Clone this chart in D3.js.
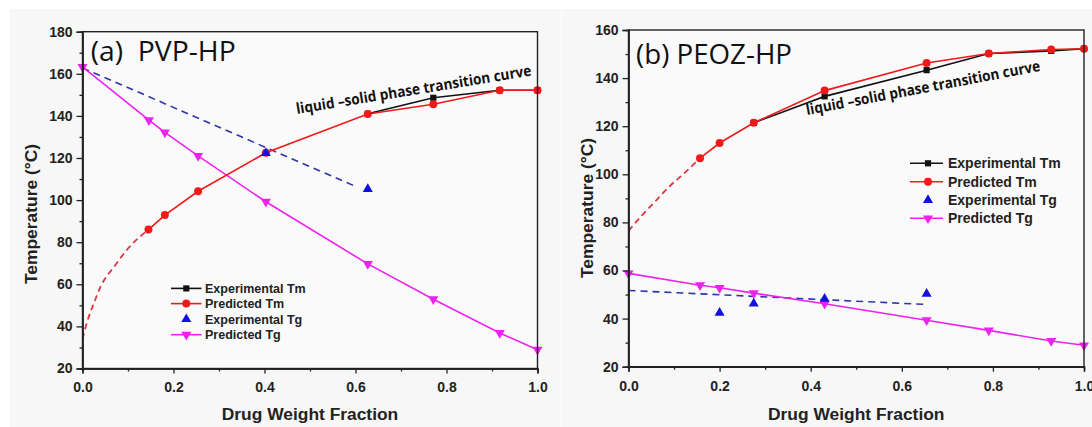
<!DOCTYPE html>
<html>
<head>
<meta charset="utf-8">
<script src="https://cdn.jsdelivr.net/npm/d3@7"></script>
<style>
  body { margin: 0; background: #fff; }
  svg { display: block; }
  .tick text { font-family: "Liberation Sans", Arial, sans-serif; font-weight: bold; font-size: 14px; fill: #222; }
</style>
</head>
<body>
<script>
// ---- data ----
var xTicks = [0, 0.2, 0.4, 0.6, 0.8, 1.0];
var xMinor = [0.1, 0.3, 0.5, 0.7, 0.9];
var pvpYTicks = [20, 40, 60, 80, 100, 120, 140, 160, 180];
var pvpYMinor = [30, 50, 70, 90, 110, 130, 150, 170];
var peozYTicks = [20, 40, 60, 80, 100, 120, 140, 160];
var peozYMinor = [30, 50, 70, 90, 110, 130, 150];

var legendLabels = ["Experimental Tm", "Predicted Tm", "Experimental Tg", "Predicted Tg"];

// (a) PVP-HP
var pvpExpTm = [[0.627, 141.0], [0.771, 148.6], [0.917, 152.2], [1.0, 152.2]];
var pvpPredTm = [[0.145, 86.0], [0.181, 92.9], [0.254, 104.2], [0.403, 122.5], [0.627, 140.9], [0.771, 145.5], [0.917, 152.2], [1.0, 152.2]];
var pvpPredTmExtrap = [[0, 34], [0.01, 42], [0.025, 51], [0.04, 59], [0.07, 68.5], [0.1, 77], [0.145, 86.0]];
var pvpExpTg = [[0.403, 122.3], [0.627, 105.2]];
var pvpExpTgFit = [[0, 162.8], [0.6, 106.5]];
var pvpPredTg = [[0, 163.3], [0.146, 138], [0.181, 132.2], [0.254, 121], [0.403, 99.2], [0.627, 69.7], [0.771, 52.9], [0.917, 36.9], [1.0, 28.9]];

// (b) PEOZ-HP
var peozExpTm = [[0.275, 121.4], [0.4305, 132.4], [0.6545, 143.3], [0.791, 150.2], [0.928, 151.3], [1.0, 152.2]];
var peozPredTm = [[0.157, 106.7], [0.2, 113.0], [0.275, 121.4], [0.4305, 134.8], [0.6545, 146.3], [0.791, 150.2], [0.928, 151.9], [1.0, 152.2]];
var peozPredTmExtrap = [[0, 76.5], [0.03, 83], [0.06, 89], [0.09, 95], [0.12, 100], [0.157, 106.7]];
var peozExpTg = [[0.2, 42.4], [0.275, 46.2], [0.4305, 48.2], [0.6545, 50.3]];
var peozExpTgFit = [[0, 51.7], [0.651, 45.9]];
var peozPredTg = [[0, 58.8], [0.157, 53.9], [0.2, 52.8], [0.275, 50.6], [0.4305, 46.2], [0.6545, 39.3], [0.791, 35.1], [0.928, 30.7], [1.0, 28.9]];

// ---- colours ----
var cBlack = "#111", cRed = "#f01a1a", cRedDash = "#e2343e", cBlue = "#1010e0", cBlueDash = "#2f35a8", cMag = "#ee22ee";

var svg = d3.select("body").append("svg").attr("width", 1092).attr("height", 427);

// light grey backgrounds of the two scanned panels
svg.append("rect").attr("x", 10).attr("y", 9).attr("width", 551).attr("height", 418).attr("fill", "#f7f7f7");
svg.append("rect").attr("x", 562).attr("y", 9).attr("width", 530).attr("height", 418).attr("fill", "#f7f7f7");

var sym = {
	square: d3.symbol().type(d3.symbolSquare).size(38),
	circle: d3.symbol().type(d3.symbolCircle).size(50),
	tri: d3.symbol().type(d3.symbolTriangle).size(44)
};

function drawPanel(p) {
	var x = d3.scaleLinear().domain([0, 1]).range([p.left, p.right]);
	var y = d3.scaleLinear().domain(p.yDomain).range([p.bottom, p.top]);
	var g = svg.append("g");

	g.append("rect")
		.attr("x", p.left).attr("y", p.top)
		.attr("width", p.right - p.left).attr("height", p.bottom - p.top)
		.attr("fill", "#fafafa");

	var line = d3.line().x(function(d){ return x(d[0]); }).y(function(d){ return y(d[1]); });
	var smooth = d3.line().curve(d3.curveMonotoneX).x(function(d){ return x(d[0]); }).y(function(d){ return y(d[1]); });

	// lines
	g.append("path").datum(p.expTgFit).attr("d", line)
		.attr("fill", "none").attr("stroke", cBlueDash).attr("stroke-width", 1.6).attr("stroke-dasharray", "7,5");
	g.append("path").datum(p.predTg).attr("d", line)
		.attr("fill", "none").attr("stroke", cMag).attr("stroke-width", 1.6);
	g.append("path").datum(p.predTmExtrap).attr("d", smooth)
		.attr("fill", "none").attr("stroke", cRedDash).attr("stroke-width", 1.8).attr("stroke-dasharray", "6,4");
	g.append("path").datum(p.expTm).attr("d", line)
		.attr("fill", "none").attr("stroke", cBlack).attr("stroke-width", 1.6);
	g.append("path").datum(p.predTm).attr("d", line)
		.attr("fill", "none").attr("stroke", cRed).attr("stroke-width", 1.6);

	// markers
	g.selectAll(".sq").data(p.expTm).enter().append("path")
		.attr("d", sym.square())
		.attr("transform", function(d){ return "translate(" + x(d[0]) + "," + y(d[1]) + ")"; })
		.attr("fill", cBlack);
	g.selectAll(".ci").data(p.predTm).enter().append("path")
		.attr("d", sym.circle())
		.attr("transform", function(d){ return "translate(" + x(d[0]) + "," + y(d[1]) + ")"; })
		.attr("fill", cRed);
	g.selectAll(".dn").data(p.predTg).enter().append("path")
		.attr("d", sym.tri())
		.attr("transform", function(d){ return "translate(" + x(d[0]) + "," + y(d[1]) + ") rotate(180)"; })
		.attr("fill", cMag);
	g.selectAll(".up").data(p.expTg).enter().append("path")
		.attr("d", sym.tri())
		.attr("transform", function(d){ return "translate(" + x(d[0]) + "," + y(d[1]) + ")"; })
		.attr("fill", cBlue);

	// frame
	g.append("rect")
		.attr("x", p.left).attr("y", p.top)
		.attr("width", p.right - p.left).attr("height", p.bottom - p.top)
		.attr("fill", "none").attr("stroke", "#222").attr("stroke-width", 1.4);

	// axes
	g.append("g").attr("transform", "translate(0," + p.bottom + ")")
		.call(d3.axisBottom(x).tickValues(xTicks).tickFormat(d3.format(".1f")).tickSize(5).tickPadding(9));
	g.append("g").attr("transform", "translate(0," + p.bottom + ")")
		.call(d3.axisBottom(x).tickValues(xMinor).tickFormat("").tickSize(3));
	g.append("g").attr("transform", "translate(" + p.left + ",0)")
		.call(d3.axisLeft(y).tickValues(p.yTicks).tickSize(6).tickPadding(4));
	g.append("g").attr("transform", "translate(" + p.left + ",0)")
		.call(d3.axisLeft(y).tickValues(p.yMinor).tickFormat("").tickSize(3));
	g.selectAll(".domain").attr("stroke", "#222").attr("stroke-width", 1.4);
	g.selectAll(".tick line").attr("stroke", "#222").attr("stroke-width", 1.3);

	// axis titles
	g.append("text")
		.attr("x", (p.left + p.right) / 2).attr("y", 420)
		.attr("text-anchor", "middle")
		.style("font-family", "Liberation Sans, Arial, sans-serif").style("font-weight", "bold").style("font-size", "17.4px")
		.attr("fill", "#222")
		.text("Drug Weight Fraction");
	g.append("text")
		.attr("transform", "translate(" + p.yTitleX + "," + p.yTitleY + ") rotate(-90)")
		.attr("text-anchor", "middle")
		.style("font-family", "Liberation Sans, Arial, sans-serif").style("font-weight", "bold").style("font-size", "17.4px")
		.attr("fill", "#222")
		.text("Temperature (°C)");

	// panel label
	g.append("text")
		.attr("x", p.labelX).attr("y", p.labelY)
		.attr("textLength", p.labelLen).attr("lengthAdjust", "spacingAndGlyphs")
		.style("font-family", "Open Sans, sans-serif").style("font-size", p.labelSize + "px")
		.style("white-space", "pre")
		.attr("fill", "#111")
		.text(p.label);

	// curve annotation
	g.append("text")
		.attr("transform", "translate(" + p.noteX + "," + p.noteY + ") rotate(" + p.noteAngle + ")")
		.attr("textLength", 238).attr("lengthAdjust", "spacingAndGlyphs")
		.style("font-family", "Open Sans, sans-serif").style("font-weight", "bold").style("font-size", "15px")
		.attr("fill", "#111")
		.text("liquid \u2013solid phase transition curve");

	// legend
	var lg = p.legend;
	legendLabels.forEach(function(lab, i) {
		var ly = lg.rows[i];
		if (i !== 2) {
			g.append("line")
				.attr("x1", lg.x1).attr("x2", lg.x2).attr("y1", ly).attr("y2", ly)
				.attr("stroke", [cBlack, cRed, cBlue, cMag][i]).attr("stroke-width", 1.6);
		}
		var mk = [sym.square, sym.circle, sym.tri, sym.tri][i];
		g.append("path")
			.attr("d", mk())
			.attr("transform", "translate(" + lg.mx + "," + ly + ")" + (i === 3 ? " rotate(180)" : ""))
			.attr("fill", [cBlack, cRed, cBlue, cMag][i]);
		g.append("text")
			.attr("x", lg.tx).attr("y", ly).attr("dy", "0.36em")
			.style("font-family", "Liberation Sans, Arial, sans-serif").style("font-weight", "bold").style("font-size", lg.size + "px")
			.attr("fill", "#222")
			.text(lab);
	});
}

drawPanel({
	left: 82.5, right: 537.5, top: 31.7, bottom: 368.5, yDomain: [20, 180],
	yTicks: pvpYTicks, yMinor: pvpYMinor,
	expTm: pvpExpTm, predTm: pvpPredTm, predTmExtrap: pvpPredTmExtrap,
	expTg: pvpExpTg, expTgFit: pvpExpTgFit, predTg: pvpPredTg,
	yTitleX: 37, yTitleY: 214,
	label: "(a)  PVP-HP", labelX: 90.7, labelY: 61.4, labelLen: 145, labelSize: 27,
	noteX: 297, noteY: 114, noteAngle: -9.3,
	legend: { x1: 171, x2: 201.5, mx: 186.3, tx: 205, size: 12.5, rows: [288.4, 303.6, 319.2, 334.7] }
});

drawPanel({
	left: 628.5, right: 1084, top: 30, bottom: 366.7, yDomain: [20, 160],
	yTicks: peozYTicks, yMinor: peozYMinor,
	expTm: peozExpTm, predTm: peozPredTm, predTmExtrap: peozPredTmExtrap,
	expTg: peozExpTg, expTgFit: peozExpTgFit, predTg: peozPredTg,
	yTitleX: 593, yTitleY: 208,
	label: "(b) PEOZ-HP", labelX: 636, labelY: 63.5, labelLen: 156, labelSize: 28,
	noteX: 807, noteY: 115, noteAngle: -10.7,
	legend: { x1: 910, x2: 943, mx: 928, tx: 948, size: 14, rows: [163.3, 181.7, 200, 218.3] }
});
</script>
</body>
</html>
